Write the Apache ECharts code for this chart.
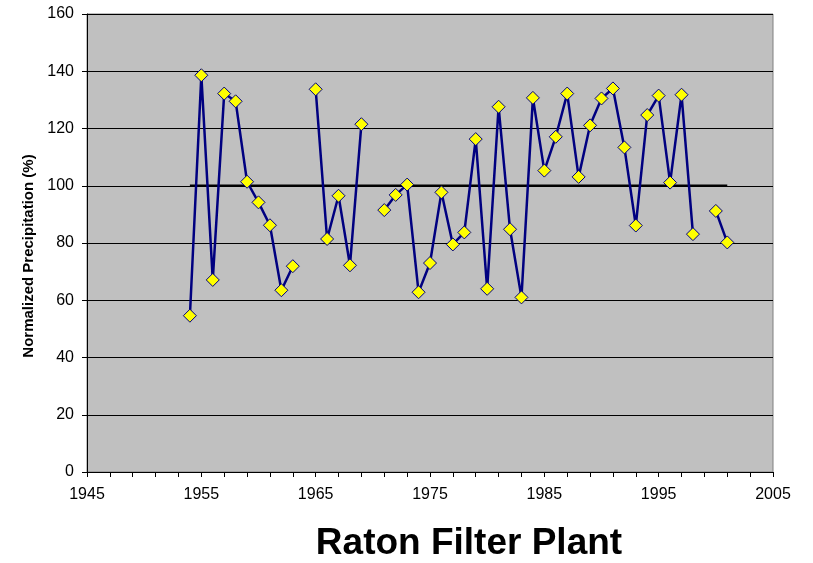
<!DOCTYPE html>
<html>
<head>
<meta charset="utf-8">
<script src="https://cdn.jsdelivr.net/npm/echarts@6/dist/echarts.min.js"></script>
<style>
  html, body { margin: 0; padding: 0; background: #fff; }
  #chart { width: 813px; height: 563px; }
</style>
</head>
<body>
<div id="chart"></div>
<script>
// years with a reading; null = no value that year (line breaks there)
const years = [
  1954, 1955, 1956, 1957, 1958, 1959, 1960, 1961, 1962, 1963, 1964,
  1965, 1966, 1967, 1968, 1969, 1970, 1971, 1972, 1973, 1974, 1975,
  1976, 1977, 1978, 1979, 1980, 1981, 1982, 1983, 1984, 1985, 1986,
  1987, 1988, 1989, 1990, 1991, 1992, 1993, 1994, 1995, 1996, 1997,
  1998, 1999, 2000, 2001
];
const precip = [
  54.6, 138.6, 67.1, 132.2, 129.5, 101.4, 94.2, 86.2, 63.5, 71.9, null,
  133.7, 81.4, 96.5, 72.2, 121.5, null, 91.5, 96.8, 100.4, 62.8, 73.0,
  97.7, 79.5, 83.7, 116.3, 64.0, 127.6, 84.8, 61.0, 130.7, 105.3, 117.1,
  132.2, 103.1, 121.1, 130.5, 134.0, 113.4, 86.1, 124.7, 131.5, 101.1, 131.8,
  83.1, null, 91.2, 80.2
];
// 100% normal line
const normYears = [1954, 2001];
const normValue = [100, 100];

const yTicks = [0, 20, 40, 60, 80, 100, 120, 140, 160];

const lineData = years.map((y, i) => [y, precip[i] == null ? '-' : precip[i]]);
const normData = normYears.map((y, i) => [y, normValue[i]]);

const myChart = echarts.init(document.getElementById('chart'));
const font = 'Liberation Sans, Arial, sans-serif';

let option = {
  animation: false,
  textStyle: { fontFamily: font },
  title: {
    text: 'Raton Filter Plant',
    left: 464,
    top: 520,
    textAlign: 'center',
    textStyle: { fontSize: 37, fontWeight: 'bold', color: '#000', fontFamily: font }
  },
  grid: {
    left: 87,
    right: 40,
    top: 14,
    bottom: 91,
    show: true,
    backgroundColor: '#c0c0c0',
    borderColor: '#808080',
    borderWidth: 1
  },
  xAxis: {
    type: 'value',
    min: 1945,
    max: 2005,
    interval: 10,
    axisLine: { show: true, onZero: false, lineStyle: { color: '#000', width: 1 } },
    axisTick: { show: true, length: 5, lineStyle: { color: '#000' } },
    minorTick: { show: true, splitNumber: 5, length: 5, lineStyle: { color: '#000' } },
    splitLine: { show: false },
    axisLabel: {
      color: '#000',
      fontSize: 16,
      margin: 15,
      fontFamily: font,
      formatter: v => String(v)
    }
  },
  yAxis: {
    type: 'value',
    min: yTicks[0],
    max: yTicks[yTicks.length - 1],
    interval: 20,
    name: 'Normalized Precipitation (%)',
    nameLocation: 'middle',
    nameGap: 50,
    nameTextStyle: {
      fontSize: 15,
      fontWeight: 'bold',
      color: '#000',
      fontFamily: font,
      padding: [0, 26, 0, 0] // nudge down a bit, like the original
    },
    axisLine: { show: true, lineStyle: { color: '#000', width: 1 } },
    axisTick: { show: true, length: 5, lineStyle: { color: '#000' } },
    splitLine: { show: true, lineStyle: { color: '#000', width: 1 } },
    axisLabel: { color: '#000', fontSize: 16, margin: 13, fontFamily: font }
  },
  series: [
    {
      name: 'norm',
      type: 'line',
      data: normData,
      symbol: 'none',
      lineStyle: { color: '#000', width: 2.5 },
      z: 2
    },
    {
      name: 'precip',
      type: 'line',
      data: lineData,
      connectNulls: false,
      symbol: 'diamond',
      symbolSize: 13,
      itemStyle: { color: '#ffff00', borderColor: '#000080', borderWidth: 1 },
      lineStyle: { color: '#000080', width: 2.5 },
      z: 3
    }
  ]
};

myChart.setOption(option, true);
</script>
</body>
</html>
